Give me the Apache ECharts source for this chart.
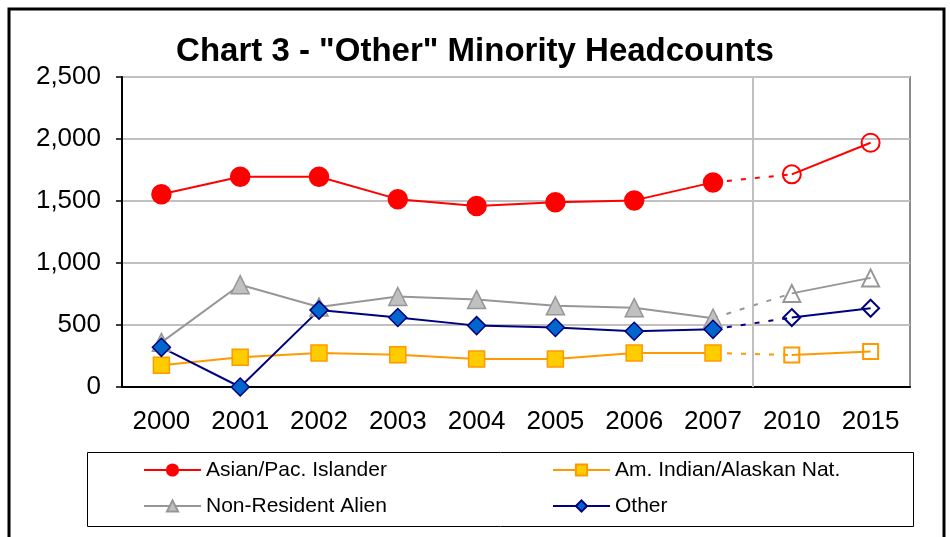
<!DOCTYPE html>
<html>
<head>
<meta charset="utf-8">
<script src="https://cdn.jsdelivr.net/npm/echarts@6/dist/echarts.min.js"></script>
<style>
  html, body { margin: 0; padding: 0; background: #fff; }
  #chart { width: 950px; height: 537px; }
</style>
</head>
<body>
<div id="chart"></div>
<script>
// data
const years = ['2000', '2001', '2002', '2003', '2004', '2005', '2006', '2007', '2010', '2015'];
const asian = [1555, 1695, 1695, 1515, 1460, 1490, 1505, 1650, 1715, 1970];
const amIndian = [175, 240, 275, 260, 225, 225, 275, 275, 258, 287];
const nonResident = [360, 825, 645, 730, 705, 655, 640, 555, 755, 880];
const other = [320, 0, 620, 560, 495, 480, 450, 465, 560, 635];
const yTicks = [0, 500, 1000, 1500, 2000, 2500];

const FONT = "'Liberation Sans', Arial, sans-serif";
const lastActual = years.indexOf('2007'); // after this point the values are projections

// one entry per group: name, values, colors, marker
const groups = [
  { name: 'Asian/Pac. Islander', values: asian, line: '#ff0000', fill: '#ff0000', border: '#ff0000', symbol: 'circle', size: 19 },
  { name: 'Am. Indian/Alaskan Nat.', values: amIndian, line: '#ff9900', fill: '#ffcc00', border: '#ff9900', symbol: 'rect', size: 16 },
  { name: 'Non-Resident Alien', values: nonResident, line: '#969696', fill: '#c0c0c0', border: '#969696', symbol: 'triangle', size: 18 },
  { name: 'Other', values: other, line: '#000080', fill: '#0066cc', border: '#000080', symbol: 'diamond', size: 18 }
];

function part(values, from, to) {
  return values.map((v, i) => (i >= from && i <= to ? v : null));
}

const series = [];
groups.forEach(g => {
  // actual years, filled markers
  series.push({
    name: g.name, type: 'line', data: part(g.values, 0, lastActual),
    symbol: g.symbol, symbolSize: g.size, showAllSymbol: true,
    lineStyle: { color: g.line, width: 2 },
    itemStyle: { color: g.fill, borderColor: g.border, borderWidth: 1.5 },
    z: 3
  });
  // dashed link into the projection
  series.push({
    name: g.name + ' link', type: 'line', data: part(g.values, lastActual, lastActual + 1),
    symbol: 'none',
    lineStyle: { color: g.line, width: 2, type: [5, 9] },
    z: 2
  });
  // projected years, hollow markers
  series.push({
    name: g.name + ' proj', type: 'line', data: part(g.values, lastActual + 1, years.length - 1),
    symbol: g.symbol, symbolSize: g.size - 1, showAllSymbol: true,
    lineStyle: { color: g.line, width: 2 },
    itemStyle: { color: 'rgba(255,255,255,0)', borderColor: g.line, borderWidth: 2 },
    z: 3
  });
});

// grey divider between actual and projected years
series.push({
  name: 'divider', type: 'line', xAxisIndex: 1, data: [],
  silent: true, symbol: 'none',
  markLine: {
    silent: true, symbol: 'none', label: { show: false },
    lineStyle: { color: '#c0c0c0', width: 2, type: 'solid' },
    data: [{ xAxis: lastActual + 1 }]
  },
  z: 1
});

const legendCommon = {
  orient: 'vertical',
  top: 459,
  itemWidth: 57,
  itemHeight: 14,
  itemGap: 14,
  padding: 0,
  selectedMode: false,
  textStyle: { fontFamily: FONT, fontSize: 21, color: '#000', lineHeight: 22 }
};

const chart = echarts.init(document.getElementById('chart'));
chart.setOption({
  animation: false,
  backgroundColor: '#fff',
  title: {
    text: 'Chart 3 - "Other" Minority Headcounts',
    left: 'center',
    top: 30,
    textStyle: { fontFamily: FONT, fontSize: 33, fontWeight: 'bold', color: '#000' }
  },
  legend: [
    Object.assign({}, legendCommon, { left: 143, data: [groups[0].name, groups[2].name] }),
    Object.assign({}, legendCommon, { left: 552, data: [groups[1].name, groups[3].name] })
  ],
  grid: {
    left: 122, right: 40, top: 77, bottom: 150,
    show: true, borderColor: '#8c8c8c', borderWidth: 2
  },
  xAxis: [{
    type: 'category',
    data: years,
    boundaryGap: true,
    axisLine: { lineStyle: { color: '#000', width: 2 } },
    axisTick: { length: 7, lineStyle: { color: '#000', width: 1.5 } },
    axisLabel: { fontFamily: FONT, fontSize: 26, color: '#000', margin: 22 },
    splitLine: { show: false }
  }, {
    type: 'value', min: 0, max: years.length, show: false
  }],
  yAxis: {
    type: 'value',
    min: yTicks[0],
    max: yTicks[yTicks.length - 1],
    interval: yTicks[1] - yTicks[0],
    axisLine: { show: true, lineStyle: { color: '#000', width: 2 } },
    axisTick: { show: true, length: 6, lineStyle: { color: '#000', width: 1.5 } },
    axisLabel: {
      fontFamily: FONT, fontSize: 26, color: '#000', margin: 21,
      formatter: v => v.toLocaleString('en-US')
    },
    splitLine: { lineStyle: { color: '#c0c0c0', width: 2 } }
  },
  graphic: [
    { type: 'rect', silent: true, z: 100,
      shape: { x: 9, y: 9, width: 935, height: 600 },
      style: { fill: 'none', stroke: '#000', lineWidth: 3 } },
    { type: 'rect', silent: true, z: 0,
      shape: { x: 87.5, y: 452.5, width: 826, height: 74 },
      style: { fill: 'none', stroke: '#000', lineWidth: 1 } }
  ],
  series: series
});
</script>
</body>
</html>
